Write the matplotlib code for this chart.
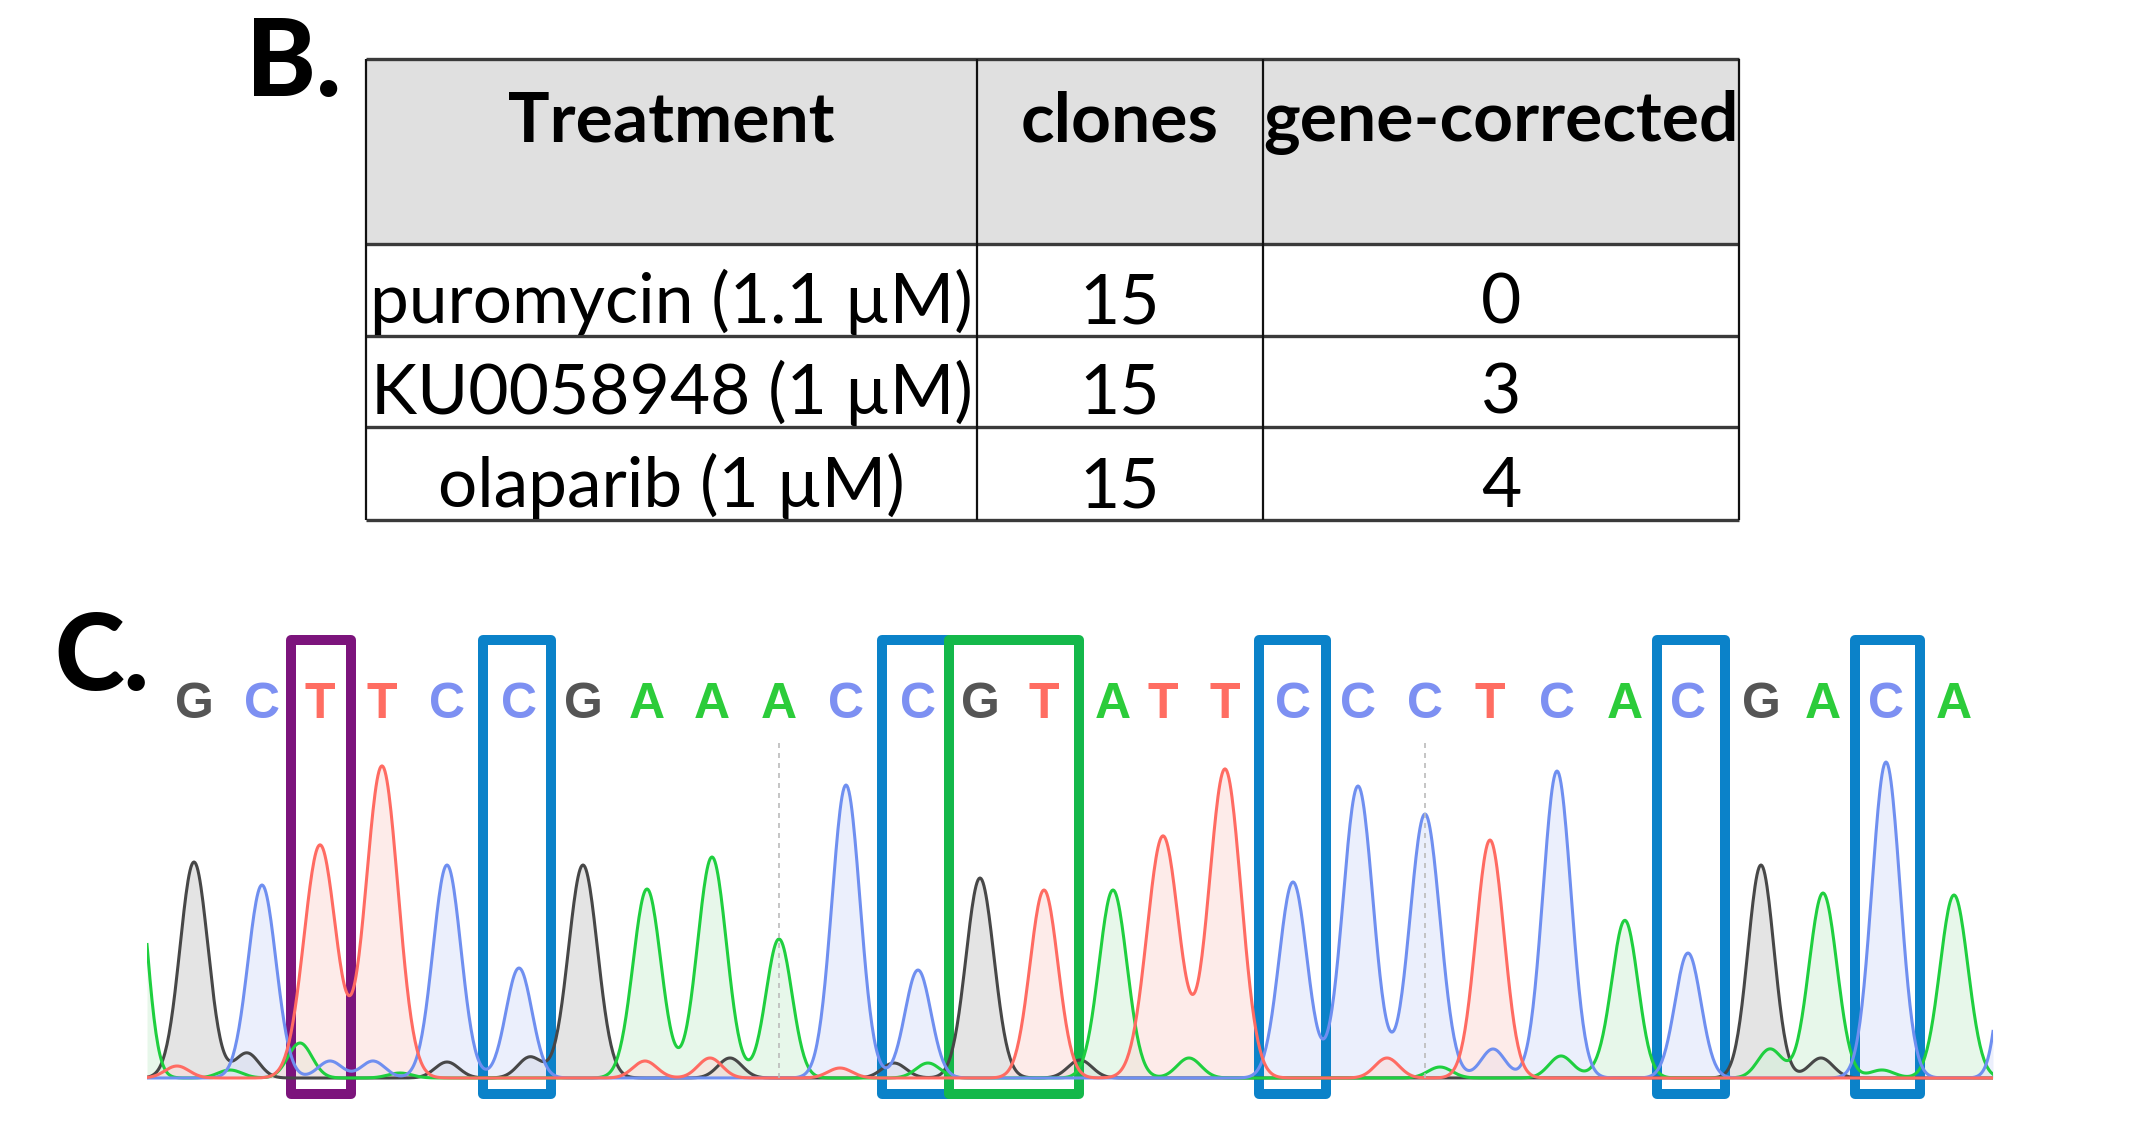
import numpy as np
import matplotlib
matplotlib.use('Agg')
import matplotlib.pyplot as plt
from matplotlib.patches import Rectangle

# ---------------- data ----------------
headers = ['Treatment', 'clones', 'gene-corrected']
treatments = ['puromycin (1.1 µM)', 'KU0058948 (1 µM)', 'olaparib (1 µM)']
clones = [15, 15, 15]
gene_corrected = [0, 3, 4]

# base calls of the trace (scan position, peak height, peak width)
bases = list('GCTTCCGAAACCGTATTCCCTCACGACA')
base_pos = [194, 262, 320, 382, 447, 519, 583, 647, 712, 779, 846, 918, 980, 1044,
            1113, 1163, 1225, 1293, 1358, 1425, 1490, 1557, 1625, 1688, 1761, 1823, 1886, 1954]
peak_height = [216, 193, 233, 312, 213, 110, 213, 189, 221, 139, 293, 108, 200, 188,
               188, 242, 309, 196, 292, 264, 238, 307, 157, 125, 213, 185, 316, 183]
peak_width = [14, 14, 16, 16, 14, 13, 14.5, 14, 14.5, 13, 14, 13, 14, 14,
              14, 16, 16, 14, 15, 15, 14, 14, 13, 13, 13, 14, 14, 14]

# small secondary peaks
minor_base = ['A', 'T', 'A', 'G', 'A', 'C', 'C', 'G', 'G', 'A', 'T', 'T', 'G', 'T',
              'G', 'A', 'G', 'A', 'A', 'T', 'A', 'C', 'A', 'A', 'G', 'A', 'C']
minor_pos = [134, 177, 230, 247, 300, 330, 373, 447, 530, 400, 645, 710, 730, 840,
             894, 928, 1080, 1189, 1440, 1387, 1561, 1493, 1770, 1882, 1821, 1600, 2015]
minor_height = [240, 12, 8, 25, 35, 17, 17, 16, 21, 5, 17, 20, 20, 10,
                15, 15, 18, 20, 11, 20, 22, 29, 29, 8, 20, 6, 250]

# highlighted positions (base indices) and box colour
box_groups = [[2], [5], [11], [12, 13], [17], [23], [26]]
box_kind = ['purple', 'blue', 'blue', 'green', 'blue', 'blue', 'blue']

# ---------------- styles ----------------
W, H = 2139, 1126
line_col = {'G': '#474747', 'A': '#1fcf3f', 'C': '#6f8ff0', 'T': '#ff6b62'}
fill_col = {'G': '#cfcfcf', 'A': '#d4f2da', 'C': '#dbe3fa', 'T': '#fcdcd8'}
text_col = {'G': '#555555', 'A': '#2ccc3a', 'C': '#7d90f2', 'T': '#ff6d62'}
box_col = {'purple': '#7c147c', 'blue': '#0b82c9', 'green': '#14b84a'}

fig = plt.figure(figsize=(W / 100, H / 100), dpi=100)

# overlay in pixel coordinates for the table and panel letters
ov = fig.add_axes([0, 0, 1, 1])
ov.set_xlim(0, W)
ov.set_ylim(H, 0)
ov.axis('off')

tfont = ['Lato', 'DejaVu Sans']
ov.text(246, 96, 'B.', fontsize=76, fontweight=900, family=tfont, va='baseline', ha='left')
ov.text(54, 690, 'C.', fontsize=76, fontweight=900, family=tfont, va='baseline', ha='left')

# table
col_edges = [366, 977, 1263, 1739]
row_edges = [59, 244, 336, 427, 520]
ov.add_patch(Rectangle((col_edges[0], row_edges[0]), col_edges[-1] - col_edges[0],
                       row_edges[1] - row_edges[0], facecolor='#e0e0e0', edgecolor='none'))
for y in row_edges:
    ov.plot([col_edges[0], col_edges[-1]], [y, y], color='#3a3a3a', lw=2.4, solid_capstyle='butt')
for x in col_edges:
    ov.plot([x, x], [row_edges[0], row_edges[-1]], color='#111111', lw=1.6, solid_capstyle='butt')

centers = [(col_edges[i] + col_edges[i + 1]) / 2 for i in range(3)]
for c, h in zip(centers, headers):
    ov.text(c, 141, h, fontsize=50, fontweight='bold', family=tfont, ha='center', va='baseline')
baselines = [323, 414, 507]
for i in range(3):
    row = [treatments[i], str(clones[i]), str(gene_corrected[i])]
    for c, s in zip(centers, row):
        ov.text(c, baselines[i], s, fontsize=50, family=tfont, ha='center', va='baseline')

# ---------------- chromatogram ----------------
x0, x1 = 147, 1993
ax = fig.add_axes([x0 / W, (H - 1110) / H, (x1 - x0) / W, (1110 - 620) / H])
ax.set_xlim(x0, x1)
ax.set_ylim(-32, 458)
ax.axis('off')

scan = np.arange(x0, x1 + 1, 1.0)
traces = {}
for b in 'GACT':
    y = np.zeros_like(scan)
    for bb, p, h, w in zip(bases, base_pos, peak_height, peak_width):
        if bb == b:
            y += h * np.exp(-0.5 * ((scan - p) / w) ** 2)
    for bb, p, h in zip(minor_base, minor_pos, minor_height):
        if bb == b:
            y += h * np.exp(-0.5 * ((scan - p) / 12.0) ** 2)
    traces[b] = y

for b in 'GACT':
    ax.fill_between(scan, 0, traces[b], color=fill_col[b], alpha=0.55, lw=0)
for b in 'GACT':
    ax.plot(scan, traces[b], color=line_col[b], lw=2.2, solid_joinstyle='round')

# every 10th base marker
for i in range(9, len(bases), 10):
    ax.plot([base_pos[i], base_pos[i]], [0, 340], color='#bbbbbb', lw=1.2, ls=(0, (3, 3)))

for b, p in zip(bases, base_pos):
    ax.text(p, 360, b, color=text_col[b], fontsize=36, fontweight='bold',
            family=['Liberation Sans Narrow', 'Liberation Sans'], ha='center', va='baseline')

for grp, kind in zip(box_groups, box_kind):
    lo, hi = grp[0], grp[-1]
    left = (base_pos[lo - 1] + base_pos[lo]) / 2
    right = (base_pos[hi] + base_pos[hi + 1]) / 2
    ax.add_patch(Rectangle((left, -16), right - left, 454, fill=False,
                           edgecolor=box_col[kind], lw=7.2, joinstyle='round', clip_on=False))

fig.savefig('out.png', dpi=100, facecolor='white')
